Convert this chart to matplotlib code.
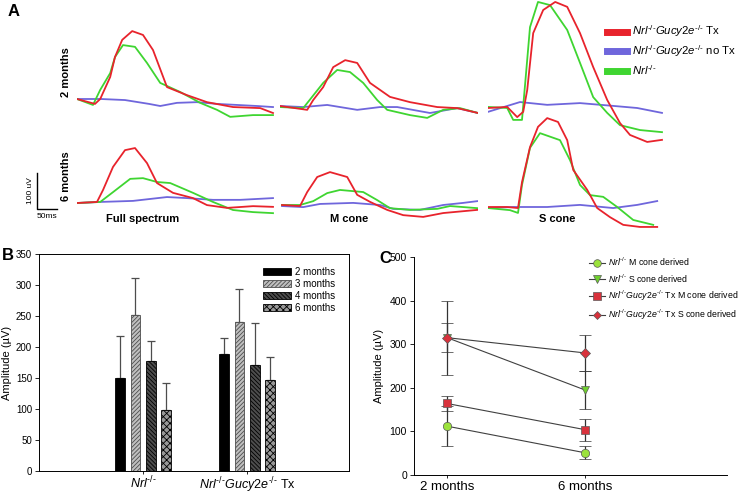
import matplotlib
matplotlib.use("Agg")
import matplotlib.pyplot as plt
from matplotlib.lines import Line2D
import numpy as np

plt.rcParams['font.family'] = ['Liberation Sans', 'DejaVu Sans']
plt.rcParams['mathtext.fontset'] = 'custom'
plt.rcParams['mathtext.it'] = 'Liberation Sans:italic'
plt.rcParams['mathtext.rm'] = 'Liberation Sans'
plt.rcParams['hatch.linewidth'] = 0.6

W, H = 741, 494

KO = r'^{\text{-/-}}'
NRL = r'$\mathit{Nrl}' + KO + '$'
NRL_GUC = r'$\mathit{Nrl}' + KO + r'\mathit{Gucy2e}' + KO + '$'

# ---- panel A: ERG traces, (time ms, amplitude uV) ----
traces = {
    ('2mo', 'full'): {
        'tx':   ([0, 45, 58, 83, 95, 113, 138, 165, 190, 225, 275, 325, 390, 458, 490],
                 [0, -14, 0, 63, 120, 169, 194, 183, 140, 34, 11, -9, -23, -26, -40]),
        'notx': ([0, 60, 120, 180, 208, 250, 300, 350, 400, 450, 490],
                 [0, 0, -3, -14, -20, -11, -9, -14, -17, -20, -23]),
        'nrl':  ([0, 40, 58, 83, 95, 115, 145, 175, 208, 258, 308, 350, 383, 440, 490],
                 [0, -17, 26, 74, 120, 154, 149, 103, 46, 20, -11, -31, -51, -46, -46]),
    },
    ('2mo', 'M'): {
        'tx':   ([0, 68, 83, 108, 133, 163, 193, 225, 275, 325, 393, 443, 495],
                 [0, -11, 17, 54, 111, 131, 123, 66, 26, 11, -3, -6, -20]),
        'notx': ([0, 58, 118, 193, 250, 293, 375, 443, 495],
                 [0, -3, 3, -11, -3, -3, -20, -6, -20]),
        'nrl':  ([0, 58, 108, 143, 175, 208, 243, 268, 325, 368, 408, 450, 495],
                 [-3, -6, 66, 103, 97, 66, 17, -11, -26, -34, -11, -6, -20]),
    },
    ('2mo', 'S'): {
        'tx':   ([0, 48, 73, 88, 98, 113, 138, 168, 198, 230, 263, 298, 330, 355, 398, 435],
                 [0, 3, -26, -11, 51, 214, 280, 303, 289, 214, 117, 23, -43, -77, -97, -91]),
        'notx': ([0, 80, 148, 230, 313, 373, 435],
                 [-11, 17, 9, 14, 6, 0, -14]),
        'nrl':  ([0, 48, 63, 85, 93, 105, 125, 155, 198, 230, 263, 298, 330, 380, 435],
                 [3, 0, -34, -34, 71, 231, 303, 294, 223, 129, 31, -14, -49, -63, -69]),
    },
    ('6mo', 'full'): {
        'tx':   ([0, 50, 65, 90, 120, 145, 175, 200, 240, 290, 325, 375, 440, 490],
                 [0, 3, 37, 103, 151, 157, 114, 57, 29, 14, -6, -14, -9, -11]),
        'notx': ([0, 58, 140, 225, 275, 340, 408, 490],
                 [0, 3, 6, 17, 14, 9, 9, 14]),
        'nrl':  ([0, 58, 90, 133, 165, 200, 233, 290, 340, 390, 440, 490],
                 [0, 3, 31, 69, 71, 60, 57, 29, 3, -20, -26, -29]),
    },
    ('6mo', 'M'): {
        'tx':   ([5, 50, 68, 93, 125, 168, 193, 225, 268, 308, 358, 408, 493],
                 [0, -3, 37, 80, 94, 80, 29, 9, -14, -29, -34, -23, -14]),
        'notx': ([5, 58, 100, 183, 250, 283, 350, 408, 458, 493],
                 [-3, -6, 3, 6, 0, -11, -14, 0, 6, 11]),
        'nrl':  ([5, 50, 83, 118, 150, 208, 243, 275, 325, 393, 425, 493],
                 [0, 0, 11, 34, 43, 37, 14, -9, -14, -11, -3, -9]),
    },
    ('6mo', 'S'): {
        'tx':   ([0, 48, 75, 85, 105, 125, 148, 175, 198, 213, 248, 273, 305, 338, 380, 423],
                 [0, 0, -3, 71, 171, 229, 254, 243, 191, 106, 49, -3, -29, -51, -57, -57]),
        'notx': ([0, 63, 148, 230, 313, 373, 423],
                 [-3, 0, 0, 6, -3, 6, 17]),
        'nrl':  ([0, 55, 75, 85, 105, 130, 180, 205, 230, 255, 288, 323, 363, 413],
                 [-3, -9, -17, 63, 169, 211, 191, 134, 63, 34, 29, 0, -37, -51]),
    },
}
trace_colors = {'tx': '#e8232c', 'notx': '#6f66dc', 'nrl': '#3fd531'}
trace_labels = [NRL_GUC + ' Tx', NRL_GUC + ' no Tx', NRL]

# ---- panel B ----
groups = [NRL, NRL_GUC + ' Tx']
ages = ['2 months', '3 months', '4 months', '6 months']
amp_b = [[150, 251, 178, 99], [188, 240, 171, 146]]
err_b = [[67, 60, 32, 43], [27, 54, 67, 38]]

# ---- panel C ----
time_c = ['2 months', '6 months']
series_c = [NRL + ' M cone derived',
            NRL + ' S cone derived',
            NRL_GUC + ' Tx M cone derived',
            NRL_GUC + ' Tx S cone derived']
amp_c = [[112, 51], [315, 195], [164, 104], [315, 280]]
err_c = [[46, 15], [34, 43], [17, 25], [85, 42]]

fig = plt.figure(figsize=(W / 100, H / 100), dpi=100)


def fx(x):
    return x / W


def fy(y):
    return 1 - y / H


# panel A axes: 2.5 ms per px, 0.35 px per uV
col_left = {'full': 77, 'M': 280, 'S': 488}
row_base = {('2mo', 'full'): 99, ('2mo', 'M'): 106, ('2mo', 'S'): 108,
            ('6mo', 'full'): 203, ('6mo', 'M'): 205, ('6mo', 'S'): 207}
ylo, yhi = -150, 320
for key, tr in traces.items():
    row, col = key
    base = row_base[key]
    bottom = H - base - (-ylo) * 0.35
    ax = fig.add_axes([fx(col_left[col]), bottom / H, 198 / W, (yhi - ylo) * 0.35 / H])
    ax.patch.set_alpha(0)
    for name in ['notx', 'nrl', 'tx']:
        t, v = tr[name]
        ax.plot(t, v, color=trace_colors[name], lw=1.3)
    ax.set_xlim(0, 495)
    ax.set_ylim(ylo, yhi)
    ax.axis('off')

fig.text(fx(8), fy(12), 'A', fontsize=12, fontweight='bold', va='center')
fig.text(fx(66), fy(72), '2 months', rotation=90, fontsize=8, fontweight='bold', ha='center', va='center')
fig.text(fx(66), fy(176), '6 months', rotation=90, fontsize=8, fontweight='bold', ha='center', va='center')
fig.text(fx(143), fy(219), 'Full spectrum', fontsize=8, fontweight='bold', ha='center', va='center')
fig.text(fx(349), fy(219), 'M cone', fontsize=8, fontweight='bold', ha='center', va='center')
fig.text(fx(557), fy(219), 'S cone', fontsize=8, fontweight='bold', ha='center', va='center')
# scale bar
fig.add_artist(Line2D([fx(37), fx(37), fx(57)], [fy(173), fy(209), fy(209)], color='black', lw=1))
fig.text(fx(30), fy(191), '100 uV', rotation=90, fontsize=6, ha='center', va='center')
fig.text(fx(47), fy(216), '50ms', fontsize=6, ha='center', va='center')

handles = [Line2D([], [], color=trace_colors[k], lw=5) for k in ['tx', 'notx', 'nrl']]
fig.legend(handles, trace_labels, loc='upper left', bbox_to_anchor=(fx(601), fy(18)),
           frameon=False, fontsize=8.2, handlelength=1.8, handletextpad=0.4,
           labelspacing=0.35, borderpad=0)

# panel B
axb = fig.add_axes([fx(39), fy(471), 310 / W, 217 / H])
fills = ['black', '0.75', '0.3', '0.6']
hatches = [None, '////////', '\\\\\\\\\\\\\\\\', 'xxxxx']
hcols = ['black', '0.3', 'black', 'black']
offs = (np.arange(4) - 1.5) * 0.148
gx = np.arange(len(groups))
for i in range(4):
    vals = [amp_b[g][i] for g in range(len(groups))]
    errs = [err_b[g][i] for g in range(len(groups))]
    axb.bar(gx + offs[i], vals, width=0.092, color=fills[i], hatch=hatches[i],
            edgecolor=hcols[i], linewidth=0.6, label=ages[i], zorder=2)
    axb.errorbar(gx + offs[i], vals, yerr=[[0] * len(vals), errs], fmt='none',
                 ecolor='0.3', elinewidth=0.9, capsize=3, capthick=0.9, zorder=1)
axb.set_xlim(-1.0, 1.98)
axb.set_ylim(0, 350)
axb.set_yticks(range(0, 351, 50))
axb.set_xticks(gx)
axb.set_xticklabels(groups, fontsize=9)
axb.tick_params(axis='y', labelsize=7, length=3, width=0.6, pad=2)
axb.tick_params(axis='x', length=2, width=0.6, pad=1)
axb.set_ylabel('Amplitude (\u00b5V)', fontsize=8, labelpad=3)
for s in axb.spines.values():
    s.set_linewidth(0.7)
axb.legend(loc='upper right', bbox_to_anchor=(0.985, 0.98), frameon=False, fontsize=7,
           handlelength=2.9, handleheight=0.8, handletextpad=0.4, labelspacing=0.2)
fig.text(fx(2), fy(255), 'B', fontsize=12, fontweight='bold', va='center')

# panel C
axc = fig.add_axes([fx(414), fy(475), 313 / W, 218 / H])
mk = ['o', 'v', 's', 'D']
msz = [6, 6, 6, 5]
mfc = ['#9be23c', '#6fcf2e', '#d8323c', '#d8323c']
xc = np.arange(len(time_c))
c_handles = []
for i in range(4):
    axc.errorbar(xc, amp_c[i], yerr=err_c[i], fmt='-', color='0.25', lw=0.8,
                 ecolor='0.2', elinewidth=0.9, capsize=4, capthick=0.9,
                 marker=mk[i], ms=msz[i], mfc=mfc[i], mec='0.35', mew=0.5)
    c_handles.append(Line2D([], [], color='0.25', lw=0.8, marker=mk[i], ms=msz[i] - 0.5,
                            mfc=mfc[i], mec='0.35', mew=0.5))
axc.set_xlim(-0.24, 2.03)
axc.set_ylim(0, 500)
axc.set_yticks(range(0, 501, 100))
axc.set_xticks(xc)
axc.set_xticklabels(time_c, fontsize=9.5)
axc.tick_params(axis='y', labelsize=7.5, length=3, width=0.6, pad=2)
axc.tick_params(axis='x', length=2, width=0.6, pad=2)
axc.spines['top'].set_visible(False)
axc.spines['right'].set_visible(False)
for s in ['left', 'bottom']:
    axc.spines[s].set_linewidth(0.7)
axc.set_ylabel('Amplitude (\u00b5V)', fontsize=8, labelpad=4)
fig.legend(c_handles, series_c, loc='upper left', bbox_to_anchor=(fx(585), fy(251)),
           frameon=False, fontsize=6.3, handlelength=1.8, handletextpad=0.3,
           labelspacing=0.5, borderpad=0)
fig.text(fx(379), fy(258), 'C', fontsize=12, fontweight='bold', va='center')

fig.savefig('out.png', dpi=100)
